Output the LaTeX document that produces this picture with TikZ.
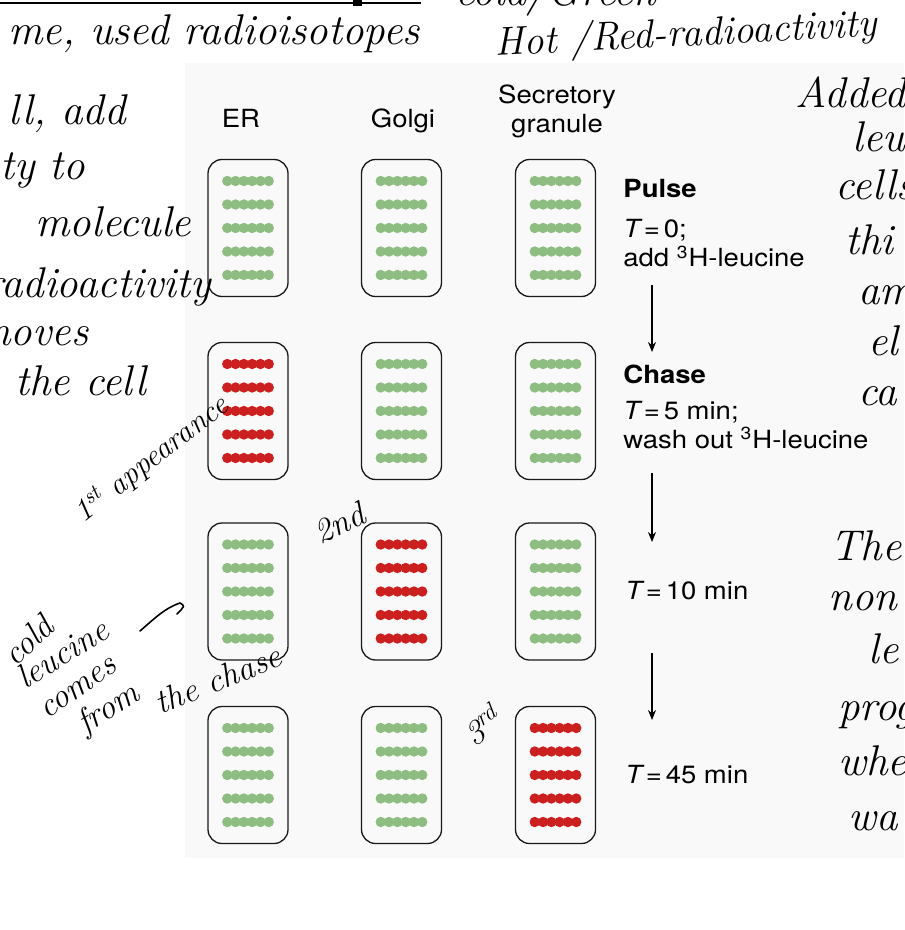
\documentclass[tikz,border=0pt]{standalone}
\usepackage{fontspec}
\newfontfamily\figfont[FakeStretch=1.1]{TeX Gyre Heros}
\usetikzlibrary{arrows.meta}
\definecolor{coldgreen}{RGB}{141,189,128}
\definecolor{hotred}{RGB}{204,32,32}
\definecolor{panelgray}{RGB}{249,249,249}

\begin{document}
\begin{tikzpicture}[x=0.5pt,y=-0.5pt,
  cellbox/.style={draw=black!90,line width=0.65pt,rounded corners=7pt,
    minimum width=40pt,minimum height=68.5pt,inner sep=0pt},
  figtxt/.style={font=\figfont\fontsize{12.5}{14}\selectfont,inner sep=0pt},
  hand/.style={font=\itshape\fontsize{21.5}{24}\selectfont,inner sep=0pt,anchor=base west},
  handsmall/.style={hand,font=\itshape\fontsize{17}{20}\selectfont},
  flowarrow/.style={-{Stealth[length=5pt,width=4pt]},line width=0.6pt}]
  \useasboundingbox (0,0) rectangle (904,930);
  \clip (0,0) rectangle (904,930);
  \fill[panelgray] (185,63) rectangle (904,858);
  % cells: one column per compartment, one row per time point
  \foreach \c/\cx/\nm in {1/248/er,2/401.5/golgi,3/555.5/gran}
    \foreach \r/\ry in {1/228,2/411,3/591.5,4/775} {
      \ifnum\numexpr\c+1\relax=\r\relax \def\dotcol{hotred}\else\def\dotcol{coldgreen}\fi
      \node[cellbox] (\nm\r) at (\cx,\ry) {};
      \foreach \dy in {-47,-23.5,0,23.5,47}
        \foreach \dx in {-20.75,-12.45,-4.15,4.15,12.45,20.75}
          \fill[\dotcol] (\cx+\dx,\ry+\dy) circle[radius=2.6pt];
    }
  \node[figtxt,anchor=base] (erlab) at (241,128) {ER};
  \node[figtxt,anchor=base] (golgilab) at (403,128) {Golgi};
  \node[figtxt,anchor=base] (granlab) at (557,104) {Secretory};
  \node[figtxt,anchor=base] (granlabb) at (557,133) {granule};
  % time points
  \node[figtxt,anchor=base west] (pulse) at (623,198) {\bfseries Pulse};
  \node[figtxt,anchor=base west] (pulset) at (623,238) {{\itshape T}\hspace{0.15em}=\hspace{0.15em}0;};
  \node[figtxt,anchor=base west] (pulseadd) at (623,267) {add \textsuperscript{3}H-leucine};
  \node[figtxt,anchor=base west] (chase) at (623,383) {\bfseries Chase};
  \node[figtxt,anchor=base west] (chaset) at (623,419) {{\itshape T}\hspace{0.15em}=\hspace{0.15em}5 min;};
  \node[figtxt,anchor=base west] (chasewash) at (623,448) {wash out \textsuperscript{3}H-leucine};
  \node[figtxt,anchor=base west] (tten) at (625,599) {{\itshape T}\hspace{0.15em}=\hspace{0.15em}10 min};
  \node[figtxt,anchor=base west] (tfortyfive) at (625,783) {{\itshape T}\hspace{0.15em}=\hspace{0.15em}45 min};
  \coordinate (aonetop) at (652,285);
  \coordinate (aonebot) at (652,352);
  \coordinate (atwotop) at (652,473);
  \coordinate (atwobot) at (652,542);
  \coordinate (athreetop) at (652,653);
  \coordinate (athreebot) at (652,720);
  \draw[flowarrow] (aonetop) -- (aonebot);
  \draw[flowarrow] (atwotop) -- (atwobot);
  \draw[flowarrow] (athreetop) -- (athreebot);
  % handwritten notes
  \draw[line width=1pt] (0,3) -- (421,3);
  \fill (353,0) rectangle (362,6);
  \node[hand] (hradio) at (8,45) {me, used radioisotopes};
  \node[hand] (hcold) at (455,6) {cold/Green};
  \node[hand,rotate=3,font=\itshape\fontsize{20}{22}\selectfont] (hhot) at (495,56) {Hot /Red-radioactivity};
  \node[hand] (hadd) at (8,125) {ll, add};
  \node[hand] (hto) at (0,180) {ty to};
  \node[hand] (hmol) at (35,237) {molecule};
  \node[hand] (hact) at (-15,298) {radioactivity};
  \node[hand] (hmoves) at (-24,345) {moves};
  \node[hand] (hcell) at (15,395) {the cell};
  \node[hand] (hadded) at (795,108) {Added};
  \node[hand] (hleu) at (852,152) {leu};
  \node[hand] (hcells) at (835,200) {cells};
  \node[hand] (hthi) at (845,255) {thi};
  \node[hand] (ham) at (858,305) {am};
  \node[hand] (hel) at (868,355) {el};
  \node[hand] (hca) at (858,405) {ca};
  \node[hand] (hthe) at (830,560) {The};
  \node[hand] (hnon) at (828,610) {non};
  \node[hand] (hle) at (868,663) {le};
  \node[hand] (hprog) at (838,720) {prog};
  \node[hand] (hwhe) at (838,775) {whe};
  \node[hand] (hwa) at (848,830) {wa};
  \node[handsmall,rotate=38,font=\itshape\fontsize{15.5}{18}\selectfont] (hfirst) at (83,524) {1\textsuperscript{st} appearance};
  \node[handsmall,rotate=25] (hsecond) at (320,545) {2nd};
  \node[handsmall,rotate=35] (hthird) at (474,748) {3\textsuperscript{rd}};
  \node[handsmall,rotate=43] (hcoldl) at (15,668) {cold};
  \node[handsmall,rotate=32] (hleucine) at (25,690) {leucine};
  \node[handsmall,rotate=35] (hcomes) at (47,720) {comes};
  \node[handsmall,rotate=32] (hfrom) at (85,735) {from};
  \node[handsmall,rotate=22] (hchase) at (160,715) {the chase};
  \draw[line width=0.8pt,line cap=round] (140,631) .. controls (155,618) and (165,608) .. (180,603)
    .. controls (185,606) .. (177,614);
\end{tikzpicture}
\end{document}
